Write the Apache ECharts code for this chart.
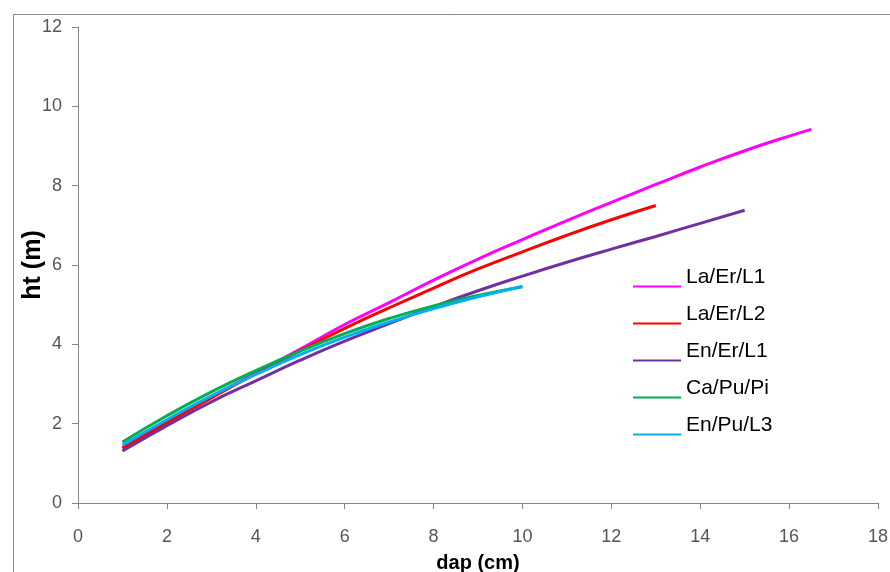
<!DOCTYPE html>
<html>
<head>
<meta charset="utf-8">
<script src="https://cdn.jsdelivr.net/npm/echarts@6/dist/echarts.min.js"></script>
<style>html,body{margin:0;padding:0;background:#fff}#c{width:890px;height:572px}</style>
</head>
<body>
<div id="c"></div>
<script>
const seriesNames = ['La/Er/L1', 'La/Er/L2', 'En/Er/L1', 'Ca/Pu/Pi', 'En/Pu/L3'];
const seriesColors = ['#FF00FF', '#FF0000', '#7030A0', '#00B050', '#00B0F0'];
const xLaEr1 = [1,2,3,4,5,6,7,8,9,10,11,12,13,14,15,16,16.5];
const yLaEr1 = [1.40,2.05,2.68,3.28,3.88,4.50,5.05,5.62,6.15,6.64,7.12,7.58,8.03,8.47,8.88,9.25,9.42];
const xLaEr2 = [1,2,3,4,5,6,7,8,9,10,11,12,13];
const yLaEr2 = [1.38,2.02,2.65,3.26,3.84,4.40,4.92,5.42,5.90,6.33,6.75,7.14,7.50];
const xEnEr1 = [1,2,3,4,5,6,7,8,9,10,11,12,13,14,15];
const yEnEr1 = [1.31,1.95,2.55,3.08,3.60,4.08,4.52,4.95,5.35,5.72,6.07,6.40,6.72,7.05,7.38];
const xCaPuPi = [1,2,3,4,5,6,7,8,9,10];
const yCaPuPi = [1.54,2.20,2.80,3.34,3.83,4.27,4.65,4.97,5.23,5.45];
const xEnPuL3 = [1,2,3,4,5,6,7,8,9,10];
const yEnPuL3 = [1.46,2.10,2.70,3.24,3.74,4.18,4.56,4.90,5.20,5.46];
const xTicks = [0,2,4,6,8,10,12,14,16,18];
const yTicks = [0,2,4,6,8,10,12];

const xs = [xLaEr1, xLaEr2, xEnEr1, xCaPuPi, xEnPuL3];
const ys = [yLaEr1, yLaEr2, yEnEr1, yCaPuPi, yEnPuL3];

const chart = echarts.init(document.getElementById('c'));
const axisFont = '"Liberation Sans Narrow", "Liberation Sans", Arial, sans-serif';
chart.setOption({
  backgroundColor: '#fff',
  animation: false,
  graphic: [{
    type: 'rect', left: 11, top: 12, silent: true,
    shape: { width: 900, height: 600 },
    style: { fill: 'none', stroke: '#8a8a8a', lineWidth: 1 }
  }],
  grid: { left: 78, top: 27, width: 800, height: 476, outerBoundsMode: 'none', containLabel: false },
  legend: {
    left: 628, top: 262, orient: 'vertical',
    icon: 'path://M0,0 M0,18 L48,18 L48,20 L0,20 Z',
    itemWidth: 48, itemHeight: 20, itemGap: 16,
    data: seriesNames,
    textStyle: { color: '#000', fontSize: 21, fontFamily: '"Liberation Sans", Arial, sans-serif' }
  },
  xAxis: {
    type: 'value', min: xTicks[0], max: xTicks[xTicks.length - 1], interval: 2,
    name: 'dap (cm)', nameLocation: 'middle', nameGap: 50, nameMoveOverlap: false,
    nameTextStyle: { fontSize: 20, fontWeight: 'bold', color: '#000', fontFamily: axisFont },
    axisLine: { lineStyle: { color: '#868686', width: 1 } },
    axisTick: { show: true, length: 6, lineStyle: { color: '#868686' } },
    axisLabel: { margin: 25, fontSize: 18, color: '#555', fontFamily: axisFont },
    splitLine: { show: false }
  },
  yAxis: {
    type: 'value', min: yTicks[0], max: yTicks[yTicks.length - 1], interval: 2,
    name: 'ht (m)', nameLocation: 'middle', nameGap: 32, nameRotate: 90, nameMoveOverlap: false,
    nameTextStyle: { fontSize: 25, fontWeight: 'bold', color: '#000', fontFamily: axisFont },
    axisLine: { show: true, lineStyle: { color: '#868686', width: 1 } },
    axisTick: { show: true, length: 6, lineStyle: { color: '#868686' } },
    axisLabel: { margin: 16, fontSize: 18, color: '#555', fontFamily: axisFont },
    splitLine: { show: false }
  },
  series: seriesNames.map((n, i) => ({
    name: n, type: 'line', smooth: true, showSymbol: false, symbol: 'none',
    color: seriesColors[i],
    lineStyle: { width: 3, color: seriesColors[i] },
    data: xs[i].map((x, j) => [x, ys[i][j]])
  }))
});
</script>
</body>
</html>
